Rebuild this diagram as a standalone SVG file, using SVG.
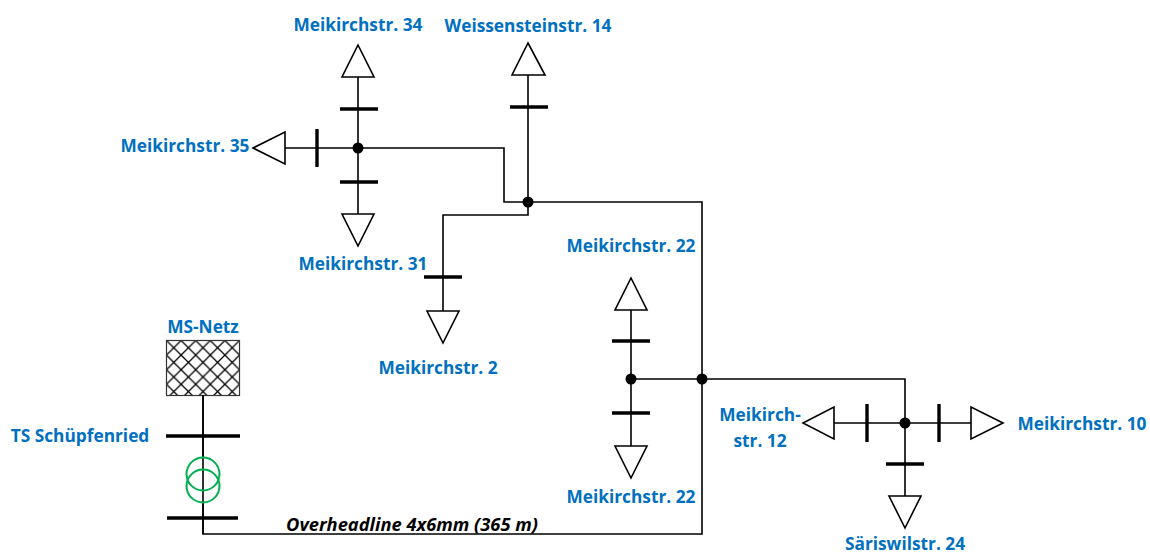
<svg xmlns="http://www.w3.org/2000/svg" width="1150" height="553" viewBox="0 0 1150 553">
<style>
.l{font-family:"Open Sans","Noto Sans","Liberation Sans",sans-serif;font-weight:700;font-size:17.3px;fill:#0070c0;text-anchor:middle}
.w{fill:none;stroke:#000;stroke-width:1.6}
.t{fill:#fff;stroke:#000;stroke-width:1.6}
.b{stroke:#000;stroke-width:3.4;fill:none}
.d{fill:#000}
.g{fill:none;stroke:#00b050;stroke-width:2}
</style>
<defs>
<pattern id="hatch" width="14.6" height="14.6" patternUnits="userSpaceOnUse" x="166.500" y="340.500">
<path d="M0 0L14.6 14.6M14.6 0L0 14.6" stroke="#000" stroke-width="1.3" fill="none"/>
</pattern>
</defs>
<rect width="1150" height="553" fill="#fff"/>
<g id="connectors">
<path class="w" d="M358 77V214M285 148H504V202H702V534H203V395M528 74V215H443V311M631 310V446M631 379H905V496M834 423H971"/>
</g>
<g id="n34"><path class="t" d="M358 45L374 77H342Z"/><path class="b" d="M340 109H378"/><text class="l" x="358" y="31">Meikirchstr. 34</text></g>
<g id="n35"><path class="t" d="M253 148L285 132V164Z"/><path class="b" d="M317 129V167"/><text class="l" x="185" y="152">Meikirchstr. 35</text></g>
<g id="n31"><path class="t" d="M358 246L374 214H342Z"/><path class="b" d="M340 182H378"/><text class="l" x="363" y="270">Meikirchstr. 31</text></g>
<g id="n14"><path class="t" d="M528 43L545 75H512Z"/><path class="b" d="M510 107H548"/><text class="l" x="528" y="32">Weissensteinstr. 14</text></g>
<g id="n2"><path class="t" d="M443 343L459 311H427Z"/><path class="b" d="M424 277H462"/><text class="l" x="438" y="374">Meikirchstr. 2</text></g>
<g id="n22a"><path class="t" d="M631 278L647 310H615Z"/><path class="b" d="M612 341H650"/><text class="l" x="631" y="252">Meikirchstr. 22</text></g>
<g id="n22b"><path class="t" d="M631 478L647 446H615Z"/><path class="b" d="M612 413H650"/><text class="l" x="631" y="503">Meikirchstr. 22</text></g>
<g id="n12"><path class="t" d="M803 423L834 407V439Z"/><path class="b" d="M867 404V442"/><text class="l" x="760" y="421">Meikirch-</text><text class="l" x="760" y="447">str. 12</text></g>
<g id="n10"><path class="t" d="M1003 423L971 407V439Z"/><path class="b" d="M939 404V442"/><text class="l" x="1082" y="430">Meikirchstr. 10</text></g>
<g id="n24"><path class="t" d="M905 528L921 496H889Z"/><path class="b" d="M886 464H924"/><text class="l" x="905" y="550">Säriswilstr. 24</text></g>
<g id="junctions"><circle class="d" cx="358" cy="148" r="5.5"/><circle class="d" cx="528" cy="202" r="5.5"/><circle class="d" cx="631" cy="379" r="5.5"/><circle class="d" cx="702" cy="379" r="5.5"/><circle class="d" cx="905" cy="423" r="5.5"/></g>
<g id="ms-netz"><rect x="166.500" y="340.500" width="73" height="55" fill="url(#hatch)" stroke="#333" stroke-width="1.2"/><text class="l" x="203" y="333">MS-Netz</text></g>
<g id="ts"><path class="b" d="M166 436H240M167 518H238"/><path class="w" d="M203 395V457M203 503V534"/><circle class="g" cx="203" cy="474" r="16.500"/><circle class="g" cx="203" cy="486" r="16.500"/><text class="l" x="80" y="442">TS Schüpfenried</text></g>
<text id="line-label" x="412" y="531" text-anchor="middle" font-family="'Open Sans','Noto Sans','Liberation Sans',sans-serif" font-weight="700" font-style="italic" font-size="18.3px" fill="#000">Overheadline 4x6mm (365 m)</text>
</svg>
